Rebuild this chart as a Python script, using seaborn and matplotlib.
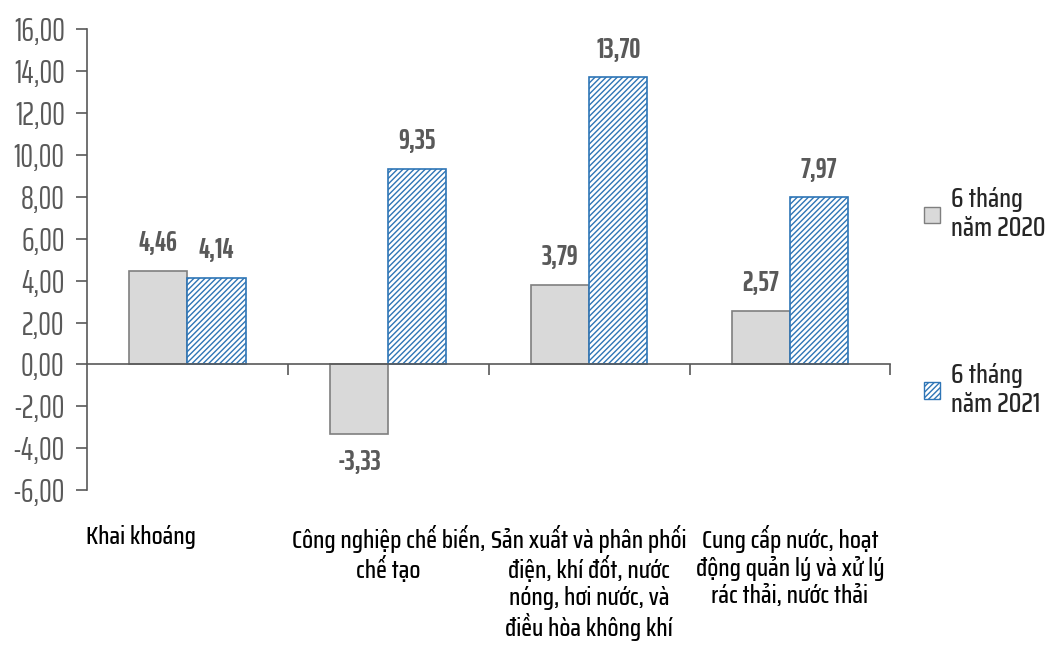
import matplotlib
matplotlib.use("Agg")
import matplotlib.pyplot as plt
from matplotlib.patches import Patch
from matplotlib.transforms import blended_transform_factory
import seaborn as sns
import pandas as pd

categories = ["Khai khoáng",
              "Công nghiệp chế biến,\nchế tạo",
              "Sản xuất và phân phối\nđiện, khí đốt, nước\nnóng, hơi nước, và\nđiều hòa không khí",
              "Cung cấp nước, hoạt\nđộng quản lý và xử lý\nrác thải, nước thải"]
series = ["6 tháng\nnăm 2020", "6 tháng\nnăm 2021"]
v2020 = [4.46, -3.33, 3.79, 2.57]
v2021 = [4.14, 9.35, 13.70, 7.97]
yticks = [-6, -4, -2, 0, 2, 4, 6, 8, 10, 12, 14, 16]

df = pd.DataFrame({
    "cat": categories * 2,
    "series": [series[0]] * 4 + [series[1]] * 4,
    "value": v2020 + v2021,
})

sns.set_style("white")
plt.rcParams["font.family"] = ["Saira Condensed", "DejaVu Sans"]
plt.rcParams["hatch.linewidth"] = 1.0

num_font = ["Saira ExtraCondensed", "DejaVu Sans"]
gray = "#595959"
blue = "#2E75B6"

fig = plt.figure(figsize=(10.6, 6.5), dpi=100)
ax = fig.add_axes([0.082, 0.246, 0.758, 0.709])

sns.barplot(data=df, x="cat", y="value", hue="series", order=categories,
            hue_order=series, width=0.58, gap=0, palette=["#D9D9D9", "white"],
            legend=False, ax=ax)

for p in ax.containers[0]:
    p.set_edgecolor("#7F7F7F")
    p.set_linewidth(1.2)
for p in ax.containers[1]:
    p.set_edgecolor(blue)
    p.set_hatch("//////")
    p.set_linewidth(1.2)

for cont, vals in zip(ax.containers, [v2020, v2021]):
    ax.bar_label(cont, labels=[f"{v:.2f}".replace(".", ",") for v in vals],
                 padding=10, fontsize=20, fontweight="bold", color=gray,
                 family=num_font)

ax.set_ylim(-6, 16)
ax.set_xlim(-0.5, 3.5)
ax.set_yticks(yticks)
ax.set_yticklabels([f"{t:.2f}".replace(".", ",") for t in yticks], fontsize=23,
                   color=gray, family=num_font)
ax.set_xticks([0.5, 1.5, 2.5, 3.5])
ax.set_xticklabels([])
ax.tick_params(axis="y", direction="out", length=8, width=1.2, color=gray, pad=8, left=True)
ax.tick_params(axis="x", direction="out", length=8, width=1.2, color=gray, bottom=True)
ax.set_xlabel("")
ax.set_ylabel("")

for s in ["top", "right"]:
    ax.spines[s].set_visible(False)
ax.spines["left"].set_color(gray)
ax.spines["left"].set_linewidth(1.2)
ax.spines["bottom"].set_position(("data", 0))
ax.spines["bottom"].set_color(gray)
ax.spines["bottom"].set_linewidth(1.2)

tr = blended_transform_factory(ax.transData, ax.transAxes)
for i, c in enumerate(categories):
    x = i - 0.23 if i == 0 else i
    ax.text(x, -0.075, c, transform=tr, ha="center", va="top", fontsize=18,
            linespacing=1.15, color="black", fontweight="medium")

handles = [Patch(facecolor="#D9D9D9", edgecolor="#7F7F7F"),
           Patch(facecolor="white", edgecolor=blue, hatch="//////")]
fig.legend(handles, series, loc="upper left", bbox_to_anchor=(0.872, 0.712),
           frameon=False, fontsize=19, labelspacing=4.6, handlelength=0.6,
           handleheight=0.6, handletextpad=0.4, borderaxespad=0, borderpad=0,
           prop={"size": 19, "weight": "medium"})

fig.savefig("out.png", dpi=100)
